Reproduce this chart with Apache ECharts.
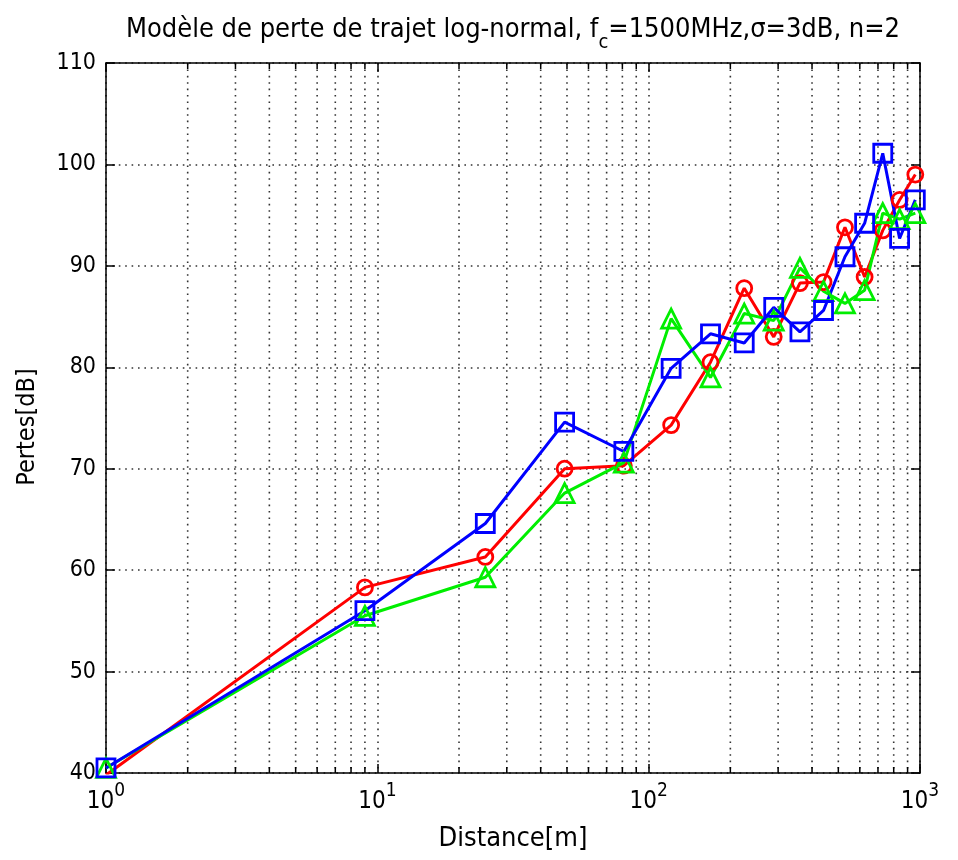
<!DOCTYPE html>
<html>
<head>
<meta charset="utf-8">
<script src="https://cdn.jsdelivr.net/npm/echarts@6/dist/echarts.min.js"></script>
<style>
  html, body { margin: 0; padding: 0; background: #fff; }
  #chart { width: 958px; height: 860px; }
</style>
</head>
<body>
<div id="chart"></div>
<script>
// Distances (m) of the receiver positions
const distances = [1, 9, 25, 49, 81, 121, 169, 225, 289, 361, 441, 529, 625, 729, 841, 961];

// Path loss realisations (dB), one list per shadowing draw
const lossRed   = [39.8, 58.3, 61.3, 70.0, 70.3, 74.3, 80.5, 87.8, 83.0, 88.3, 88.4, 93.8, 88.9, 93.5, 96.5, 99.0];
const lossGreen = [40.5, 55.5, 59.3, 67.6, 70.6, 84.8, 79.0, 85.3, 84.6, 89.8, 87.5, 86.3, 87.6, 95.2, 94.6, 95.2];
const lossBlue  = [40.5, 56.0, 64.6, 74.6, 71.7, 79.9, 83.3, 82.4, 85.9, 83.5, 85.6, 90.9, 94.2, 101.1, 92.7, 96.5];

// Axis ranges and tick values
const yTicks = [40, 50, 60, 70, 80, 90, 100, 110];
const xMajorTicks = [1, 10, 100, 1000];
const xMinorTicks = [2, 3, 4, 5, 6, 7, 8, 9, 20, 30, 40, 50, 60, 70, 80, 90, 200, 300, 400, 500, 600, 700, 800, 900];

const yMin = yTicks[0], yMax = yTicks[yTicks.length - 1];
const FONT = '"DejaVu Sans Condensed", "DejaVu Sans"';
const dotted = [1.6, 4.8];
const gridColor = '#333';

const chart = echarts.init(document.getElementById('chart'), null, { renderer: 'canvas' });

function lossSeries(values, color, symbol, size) {
  return {
    type: 'line',
    data: distances.map((d, i) => [d, values[i]]),
    symbol: symbol,
    symbolSize: size,
    showAllSymbol: true,
    lineStyle: { color: color, width: 3 },
    itemStyle: { color: 'rgba(0,0,0,0)', borderColor: color, borderWidth: 2.8 },
    emphasis: { disabled: true },
    animation: false,
    z: 5
  };
}

const option = {
  animation: false,
  backgroundColor: '#fff',
  title: {
    text: 'Modèle de perte de trajet log-normal, f{sub|c}=1500MHz,σ=3dB, n=2',
    left: 508,
    textAlign: 'center',
    top: 2,
    textStyle: {
      fontFamily: FONT, fontSize: 27, fontWeight: 'normal', color: '#000',
      lineHeight: 32,
      rich: { sub: { fontFamily: FONT, fontSize: 20, color: '#000', verticalAlign: 'bottom', lineHeight: 46 } }
    }
  },
  grid: { left: 106, right: 38, top: 63, bottom: 87, show: false },
  xAxis: [{
    type: 'log',
    logBase: 10,
    min: 1,
    max: 1000,
    name: 'Distance[m]',
    nameLocation: 'middle',
    nameGap: 52,
    nameTextStyle: { fontFamily: FONT, fontSize: 27, color: '#000' },
    axisLine: { show: true, lineStyle: { color: '#000', width: 1.5 } },
    axisTick: { show: true, inside: true, length: 9, lineStyle: { color: '#000', width: 1.5 } },
    axisLabel: {
      margin: 9,
      formatter: v => '{b|10}{s|' + Math.round(Math.log10(v)) + '}',
      rich: {
        b: { fontFamily: FONT, fontSize: 24, color: '#000', lineHeight: 32, verticalAlign: 'bottom' },
        s: { fontFamily: FONT, fontSize: 19, color: '#000', lineHeight: 32, verticalAlign: 'top' }
      }
    },
    splitLine: { show: true, lineStyle: { color: gridColor, type: dotted, width: 1.6 } }
  }, {
    type: 'log',
    logBase: 10,
    min: 1,
    max: 1000,
    position: 'top',
    axisLine: { show: true, lineStyle: { color: '#000', width: 1.5 } },
    axisTick: { show: true, inside: true, length: 9, lineStyle: { color: '#000', width: 1.5 } },
    axisLabel: { show: false },
    splitLine: { show: false }
  }],
  yAxis: [{
    type: 'value',
    min: yMin,
    max: yMax,
    interval: 10,
    name: 'Pertes[dB]',
    nameLocation: 'middle',
    nameGap: 66,
    nameRotate: 90,
    nameTextStyle: { fontFamily: FONT, fontSize: 25, color: '#000', padding: [0, 18, 0, 0] },
    axisLine: { show: true, lineStyle: { color: '#000', width: 1.5 } },
    axisTick: { show: true, inside: true, length: 9, lineStyle: { color: '#000', width: 1.5 } },
    axisLabel: { fontFamily: FONT, fontSize: 23, color: '#000', margin: 10 },
    splitLine: { show: true, lineStyle: { color: gridColor, type: dotted, width: 1.6 } }
  }, {
    type: 'value',
    min: yMin,
    max: yMax,
    interval: 10,
    position: 'right',
    axisLine: { show: true, lineStyle: { color: '#000', width: 1.5 } },
    axisTick: { show: true, inside: true, length: 9, lineStyle: { color: '#000', width: 1.5 } },
    axisLabel: { show: false },
    splitLine: { show: false }
  }],
  series: [
    {
      // dotted minor grid of the log axis, with short ticks on top and bottom edges
      type: 'custom',
      silent: true,
      animation: false,
      z: 1,
      data: xMinorTicks.map(v => [v, yMin]),
      renderItem: function (params, api) {
        const v = api.value(0);
        const bot = api.coord([v, yMin]);
        const top = api.coord([v, yMax]);
        return {
          type: 'group',
          children: [
            { type: 'line', shape: { x1: top[0], y1: top[1], x2: bot[0], y2: bot[1] },
              style: { stroke: gridColor, lineWidth: 1.6, lineDash: dotted } },
            { type: 'line', shape: { x1: bot[0], y1: bot[1], x2: bot[0], y2: bot[1] - 6 },
              style: { stroke: '#000', lineWidth: 1.5 } },
            { type: 'line', shape: { x1: top[0], y1: top[1], x2: top[0], y2: top[1] + 6 },
              style: { stroke: '#000', lineWidth: 1.5 } }
          ]
        };
      }
    },
    lossSeries(lossRed, '#ff0000', 'circle', 15),
    lossSeries(lossGreen, '#00ee00', 'triangle', 19),
    lossSeries(lossBlue, '#0000ff', 'rect', 18)
  ]
};

chart.setOption(option);
</script>
</body>
</html>
